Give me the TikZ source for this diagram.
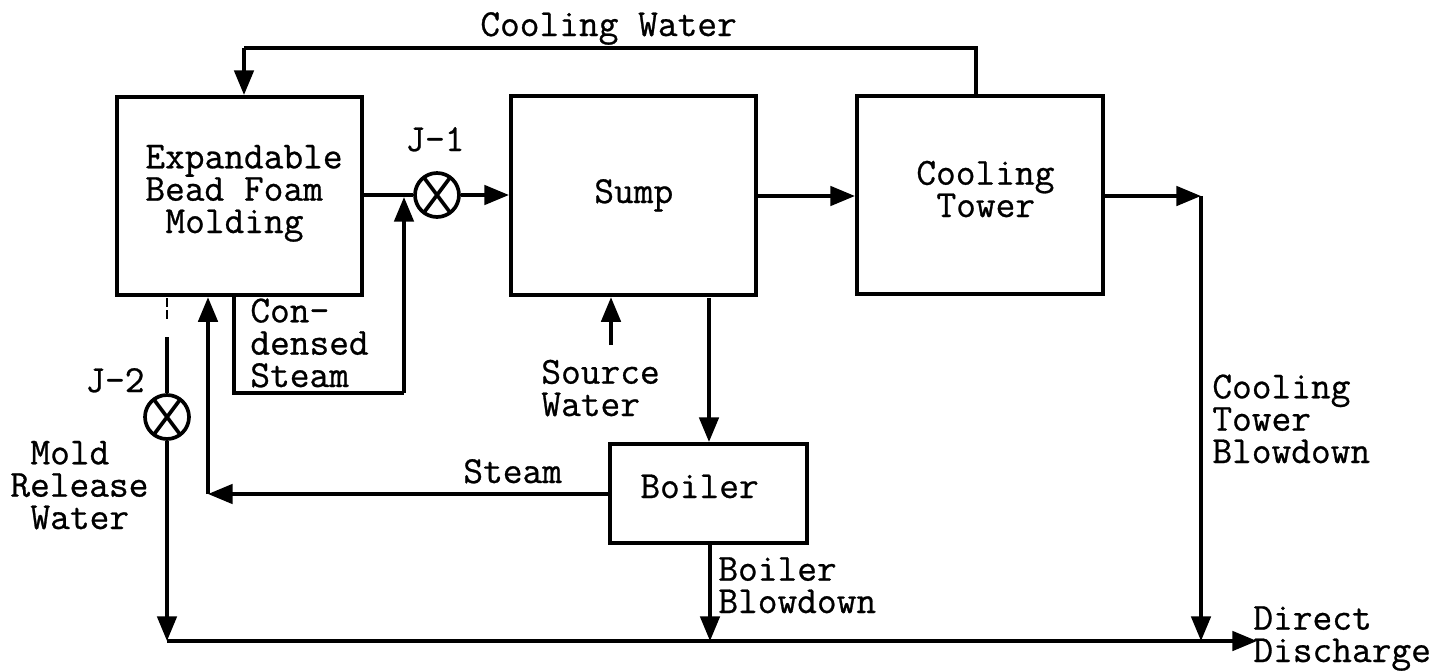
\documentclass[tikz,border=0pt]{standalone}
\usepackage{fontspec}
\setmonofont{Latin Modern Mono}[FakeBold=0.7]
\usetikzlibrary{arrows.meta,calc}
\lineskiplimit=-30pt
\newcommand{\ind}{\hspace*{0.525em}}
\tikzset{
 x=0.02cm,y=-0.02cm,
 blk/.style={draw,line width=2.4pt,inner sep=0pt,anchor=north west},
 flow/.style={line width=2.1pt,-{Triangle[length=14pt,width=11pt]}},
 pipe/.style={line width=2.1pt},
 lab/.style={font=\ttfamily\fontsize{21.8}{18.4}\selectfont,align=left,inner sep=0pt,anchor=base west},
 valve/.style={draw,circle,line width=2.1pt,minimum size=0.88cm,inner sep=0pt,path picture={\draw[line width=2.1pt] ([shift={(-18,-24)}]path picture bounding box.center)--([shift={(18,24)}]path picture bounding box.center) ([shift={(18,-24)}]path picture bounding box.center)--([shift={(-18,24)}]path picture bounding box.center);}},
}
\begin{document}
\begin{tikzpicture}
\useasboundingbox (0,0) rectangle (1434,670);
\node[blk,minimum width=4.9cm,minimum height=3.96cm] (mold) at (115,95) {};
\node[blk,minimum width=4.9cm,minimum height=3.98cm] (sump) at (509,94) {};
\node[blk,minimum width=4.92cm,minimum height=3.96cm] (tower) at (855,94) {};
\node[blk,minimum width=3.94cm,minimum height=1.98cm] (boiler) at (608,442) {};
\node[lab] (tm) at (145,233) {Expandable\\Bead Foam\\\ind Molding};
\node[lab] (ts) at (594,203) {Sump};
\node[lab] (tt) at (916,217) {Cooling\\\ind Tower};
\node[lab] (tb) at (640,498) {Boiler};
\node[valve] (v1) at (437,195) {};
\node[valve] (v2) at (167,417) {};
\node[lab] (l1) at (405,151) {J-1};
\node[lab] (l2) at (85,392) {J-2};
\node[lab] (cw) at (480,36) {Cooling Water};
\node[lab] (cs) at (250,387) {Con-\\densed\\Steam};
\node[lab] (sw) at (541,416) {Source\\Water};
\node[lab] (st) at (463,483) {Steam};
\node[lab] (mr) at (10,529) {\ind Mold\\Release\\\ind Water};
\node[lab] (ctb) at (1212,463) {Cooling\\Tower\\Blowdown};
\node[lab] (bb) at (718,613) {Boiler\\Blowdown};
\node[lab] (dd) at (1253,662) {Direct\\Discharge};
\coordinate (cwT) at (976,48);
\coordinate (cwL) at (244,48);
\coordinate (j1) at (404,197);
\coordinate (cB) at (234,393);
\coordinate (cBR) at (404,393);
\coordinate (srcS) at (611,345);
\coordinate (sB) at (709,298);
\coordinate (ctE) at (1201,196);
\coordinate (ctS) at (1201,641);
\coordinate (bus0) at (167,641);
\coordinate (busE) at (1257,641);
\coordinate (stL) at (208,494);
\coordinate (bbT) at (710,641);
\coordinate (stubA) at (167,298);
\coordinate (stubB) at (167,322);
\coordinate (stubC) at (167,337);
\draw[pipe] (tower.north-|cwT) -- (cwT) -- (cwL);
\draw[flow] (cwL) -- (mold.north-|cwL);
\draw[pipe] (mold.east|-v1) -- (v1);
\draw[flow] (v1) -- (sump.west|-v1);
\draw[pipe] (mold.south-|cB) -- (cB) -- (cBR);
\draw[flow] (cBR) -- (j1);
\draw[flow] (sump.east|-ctE) -- (tower.west|-ctE);
\draw[flow] (tower.east|-ctE) -- (ctE);
\draw[flow] (ctE) -- (ctS);
\draw[flow] (srcS) -- (sump.south-|srcS);
\draw[flow] (sB) -- (boiler.north-|sB);
\draw[flow] (boiler.west|-stL) -- (stL);
\draw[flow] (stL) -- (mold.south-|stL);
\draw[line width=1pt,dash pattern=on 5pt off 2pt] (stubA) -- (stubB);
\draw[pipe] (stubC) -- (v2);
\draw[flow] (v2) -- (bus0);
\draw[flow] (boiler.south-|bbT) -- (bbT);
\draw[flow] (bus0) -- (busE);
\end{tikzpicture}
\end{document}
